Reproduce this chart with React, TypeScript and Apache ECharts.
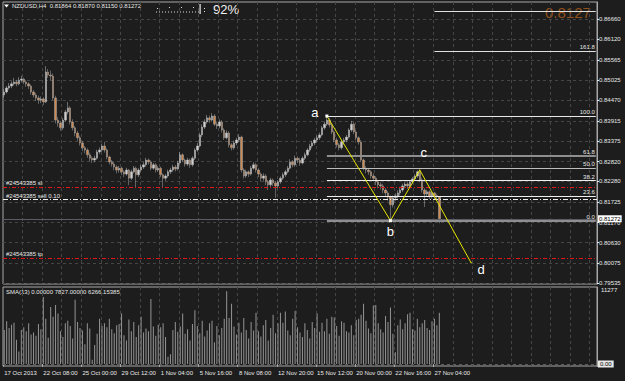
import React, { useEffect, useRef } from "react";
import * as echarts from "echarts";

// ---------- data ----------
const SYMBOL_TITLE = "NZDUSD,H4";
const HEADER_OHLC = ["0.81864", "0.81870", "0.81150", "0.81272"];
const ZOOM_PERCENT = "92%";
const BIG_PRICE = "0.8127";
const SMA_TEXT = "SMA(13) 0.00000 7827.00000 6266.15385";

const TIME_LABELS = [
  "17 Oct 2013", "22 Oct 08:00", "25 Oct 00:00", "29 Oct 12:00", "1 Nov 04:00", "5 Nov 16:00",
  "8 Nov 08:00", "12 Nov 20:00", "15 Nov 12:00", "20 Nov 00:00", "22 Nov 16:00", "27 Nov 04:00",
];
const BARS_PER_LABEL = 16;
const BARS_PER_GRID = 8;
const SLOT_COUNT = 243;

const PRICE_TICKS = [
  0.79535, 0.80075, 0.8063, 0.8117, 0.81725, 0.8228, 0.8282, 0.83375, 0.83915, 0.8447, 0.85025,
  0.85565, 0.8612, 0.8666,
];
const PRICE_MIN = 0.79508;
const PRICE_MAX = 0.87133;

const FIRST_OPEN = 0.8462;
const CLOSES = [
  0.847, 0.8481, 0.8486, 0.8492, 0.8497, 0.8492, 0.8502, 0.8505, 0.8497, 0.8492,
  0.8486, 0.847, 0.8462, 0.8454, 0.8448, 0.8451, 0.8443, 0.8524, 0.8516, 0.8513,
  0.8454, 0.8394, 0.8386, 0.8373, 0.8394, 0.8416, 0.8427, 0.8389, 0.8373, 0.8359,
  0.8346, 0.8332, 0.8319, 0.8313, 0.83, 0.8291, 0.8286, 0.8291, 0.8308, 0.8313,
  0.8324, 0.8313, 0.8294, 0.8281, 0.8275, 0.8267, 0.8259, 0.8264, 0.8254, 0.8248,
  0.8259, 0.8237, 0.8254, 0.8264, 0.8246, 0.8259, 0.8267, 0.8273, 0.8286, 0.8281,
  0.8264, 0.8273, 0.8259, 0.8264, 0.8246, 0.8237, 0.8243, 0.8254, 0.8259, 0.8267,
  0.8262, 0.8278, 0.83, 0.8286, 0.8275, 0.8286, 0.8273, 0.8291, 0.8313, 0.8324,
  0.8354, 0.8375, 0.8389, 0.84, 0.8394, 0.8405, 0.8383, 0.8378, 0.8389, 0.8367,
  0.8346, 0.8359, 0.8327, 0.8319, 0.8332, 0.834, 0.8348, 0.8259, 0.8243, 0.8254,
  0.8248, 0.8264, 0.8273, 0.8259, 0.8248, 0.8237, 0.8243, 0.8227, 0.8219, 0.8232,
  0.8224, 0.8216, 0.8227, 0.8237, 0.8246, 0.8254, 0.8264, 0.8281, 0.8273, 0.8291,
  0.8286, 0.8278, 0.8291, 0.83, 0.8313, 0.8324, 0.8332, 0.834, 0.8346, 0.8354,
  0.8373, 0.8383, 0.8394, 0.8381, 0.8362, 0.834, 0.8327, 0.8319, 0.8335, 0.834,
  0.8348, 0.8367, 0.8383, 0.8362, 0.8346, 0.8335, 0.8286, 0.8264, 0.8259, 0.8254,
  0.8243, 0.8237, 0.8227, 0.8219, 0.8216, 0.8205, 0.8197, 0.8186, 0.8165, 0.8184,
  0.8189, 0.8197, 0.8205, 0.8216, 0.8221, 0.8216, 0.8227, 0.8235, 0.8243, 0.8254,
  0.8232, 0.8205, 0.8194, 0.82, 0.8189, 0.8197, 0.819, 0.81864, 0.81272,
];
const LOWS = [
  0.8455, 0.8466, 0.8476, 0.848, 0.8487, 0.8485, 0.8488, 0.8496, 0.8491, 0.8484,
  0.8478, 0.8463, 0.8455, 0.8446, 0.8438, 0.844, 0.8435, 0.844, 0.8508, 0.85,
  0.8448, 0.8385, 0.8376, 0.8365, 0.8368, 0.839, 0.841, 0.8382, 0.8366, 0.835,
  0.8338, 0.8325, 0.831, 0.8304, 0.8292, 0.8283, 0.8278, 0.828, 0.8287, 0.8302,
  0.8308, 0.8306, 0.8288, 0.8274, 0.8268, 0.8258, 0.825, 0.8252, 0.8246, 0.824,
  0.8244, 0.8218, 0.8232, 0.825, 0.821, 0.824, 0.8254, 0.8262, 0.8268, 0.8274,
  0.8258, 0.826, 0.8252, 0.8254, 0.824, 0.8212, 0.823, 0.8238, 0.8248, 0.8254,
  0.8255, 0.8258, 0.8274, 0.828, 0.8268, 0.827, 0.8265, 0.8268, 0.8286, 0.8308,
  0.832, 0.8348, 0.837, 0.8384, 0.8386, 0.839, 0.8378, 0.837, 0.8372, 0.836,
  0.834, 0.8342, 0.832, 0.8312, 0.8314, 0.8326, 0.8334, 0.8252, 0.8236, 0.8238,
  0.824, 0.8244, 0.826, 0.8252, 0.824, 0.8228, 0.823, 0.8218, 0.8205, 0.8214,
  0.8216, 0.8184, 0.821, 0.8222, 0.8232, 0.824, 0.825, 0.826, 0.8266, 0.8268,
  0.8278, 0.827, 0.8274, 0.8286, 0.8296, 0.8308, 0.8318, 0.8326, 0.8334, 0.834,
  0.835, 0.8368, 0.8378, 0.8374, 0.8356, 0.8334, 0.832, 0.8312, 0.8314, 0.8328,
  0.8334, 0.8344, 0.8362, 0.8356, 0.834, 0.8328, 0.828, 0.8258, 0.825, 0.8246,
  0.8236, 0.8228, 0.8218, 0.821, 0.8206, 0.8196, 0.8188, 0.8176, 0.8122, 0.8158,
  0.8176, 0.8182, 0.819, 0.82, 0.821, 0.8208, 0.821, 0.8222, 0.823, 0.8238,
  0.8226, 0.8198, 0.8159, 0.8186, 0.818, 0.8182, 0.818, 0.8176, 0.8115,
];
const HIGHS = [
  0.8478, 0.8486, 0.8494, 0.8499, 0.8508, 0.8503, 0.851, 0.8514, 0.8509, 0.8502,
  0.8496, 0.849, 0.8475, 0.8468, 0.846, 0.8458, 0.8456, 0.854, 0.8532, 0.8528,
  0.852, 0.846, 0.8402, 0.8392, 0.84, 0.8422, 0.8443, 0.8432, 0.8396, 0.8378,
  0.8365, 0.8352, 0.8338, 0.8324, 0.8318, 0.8306, 0.8296, 0.8298, 0.8314, 0.832,
  0.833, 0.8335, 0.8318, 0.8298, 0.8286, 0.828, 0.8272, 0.827, 0.8268, 0.8258,
  0.8265, 0.8262, 0.826, 0.827, 0.8268, 0.8264, 0.8273, 0.828, 0.8292, 0.829,
  0.8285, 0.8278, 0.8277, 0.827, 0.8268, 0.825, 0.8248, 0.826, 0.8265, 0.8273,
  0.8272, 0.8284, 0.8308, 0.8304, 0.829, 0.8292, 0.829, 0.8296, 0.8318, 0.8332,
  0.836, 0.8382, 0.8396, 0.8408, 0.8406, 0.8413, 0.841, 0.839, 0.8396, 0.8394,
  0.8372, 0.8366, 0.8364, 0.8332, 0.8338, 0.8346, 0.8356, 0.8352, 0.8264, 0.826,
  0.8258, 0.827, 0.828, 0.8278, 0.8264, 0.8252, 0.825, 0.8248, 0.8232, 0.8238,
  0.8236, 0.8228, 0.8232, 0.8242, 0.8252, 0.826, 0.827, 0.8288, 0.8286, 0.8298,
  0.8296, 0.8292, 0.8296, 0.8306, 0.8318, 0.833, 0.8338, 0.8346, 0.8352, 0.836,
  0.8378, 0.839, 0.8405, 0.84, 0.8386, 0.8366, 0.8346, 0.8332, 0.834, 0.8346,
  0.8354, 0.8372, 0.8392, 0.8388, 0.8366, 0.835, 0.834, 0.829, 0.827, 0.8264,
  0.8258, 0.825, 0.8242, 0.8232, 0.8226, 0.8222, 0.821, 0.8202, 0.819, 0.819,
  0.8196, 0.8204, 0.8212, 0.8222, 0.8228, 0.8226, 0.8232, 0.824, 0.8248, 0.8258,
  0.8259, 0.8238, 0.821, 0.8206, 0.8204, 0.8202, 0.82, 0.8195, 0.8187,
];
const VOLUMES = [
  5200, 6500, 5500, 6000, 6300, 3700, 1900, 5200, 5600, 5000,
  6200, 4500, 4800, 4300, 6100, 5300, 10200, 6900, 4000, 8700,
  7200, 9000, 7700, 5000, 4100, 6200, 6600, 5800, 3900, 9800,
  6400, 5500, 5100, 3000, 6200, 5400, 650, 2900, 4600, 6900,
  5800, 6200, 5600, 6900, 5300, 4700, 5900, 6100, 7700, 4400,
  3600, 6800, 5000, 6400, 4100, 5900, 7200, 4800, 5400, 5000,
  9900, 5700, 4300, 6000, 5600, 6200, 4100, 1100, 1500, 5200,
  6400, 4900, 5700, 7700, 4600, 5300, 3600, 6100, 8200, 5800,
  4700, 6600, 4200, 5100, 6200, 6600, 3300, 5800, 4400, 5500,
  6900, 11100, 7000, 9200, 5700, 4500, 6300, 4800, 7000, 5200,
  3900, 6400, 5100, 7800, 5000, 4200, 5900, 6700, 3600, 5500,
  7500, 4700, 6200, 7800, 6300, 8000, 5100, 4400, 6900, 8100,
  5600, 4800, 4100, 6200, 5200, 3900, 6400, 5500, 7700, 4900,
  6300, 5000, 6900, 4600, 7200, 7100, 5800, 4300, 6500, 6300,
  5000, 4800, 5900, 4400, 6700, 6900, 7500, 9200, 6600, 5400,
  4700, 8900, 9000, 6200, 5300, 4800, 7300, 6400, 8600, 4600,
  1800, 5900, 6800, 5300, 6200, 7600, 7800, 5300, 5100, 6900,
  5600, 6200, 6700, 5500, 5200, 6500, 6900, 5900, 7827,
];
const VOLUME_TICKS = [11277];
const VOLUME_MIN = -305;
const VOLUME_MAX = 11734;

const FIB_HIGH = 0.8405;
const FIB_LOW = 0.8122;
const FIB_START = 132;
const FIB_EXT_START = 176;
const FIB_RATIOS = [2, 1.618, 1, 0.618, 0.5, 0.382, 0.236, 0];
const FIB_LABELS = ["", "161.8", "100.0", "61.8", "50.0", "38.2", "23.6", "0.0"];

const WAVE_NAMES = ["a", "b", "c", "d"];
const WAVE_INDEX = [132, 158, 170, 191];
const WAVE_PRICES = [0.8405, 0.8122, 0.8259, 0.8008];

const ORDER_ID = "#24543385";
const ORDER_LOTS = "0.10";
const SL_PRICE = 0.8212;
const ENTRY_PRICE = 0.8179;
const TP_PRICE = 0.802;
const BID_PRICE = 0.81272;

// ---------- component ----------
const FONT = "Liberation Sans, Arial, sans-serif";
const TXT = "#e8e8e8";
const GRID_LINE = "#454545";
const FRAME = "#a8a8a8";
const RED = "#e01818";

export default function App() {
  const ref = useRef<HTMLDivElement>(null);

  useEffect(() => {
    if (!ref.current) return;
    const chart = echarts.init(ref.current, undefined, { renderer: "svg" });

    const categories = Array.from({ length: SLOT_COUNT }, (_, i) => String(i));
    const candles = CLOSES.map((c, i) => [i === 0 ? FIRST_OPEN : CLOSES[i - 1], c, LOWS[i], HIGHS[i]]);
    const labelAt = (idx: number) =>
      idx % BARS_PER_LABEL === 0 && idx / BARS_PER_LABEL < TIME_LABELS.length;
    const gridAt = (idx: number) => idx % BARS_PER_GRID === 0 && idx > 0;

    const fibStyle: Record<string, any> = {
      "": { color: "#e0e0e0", width: 1 },
      "161.8": { color: "#e0e0e0", width: 1 },
      "100.0": { color: "#e8e8e8", width: 1 },
      "61.8": { color: "#8e8e8e", width: 2 },
      "50.0": { color: "#bdbdbd", width: 1 },
      "38.2": { color: "#f0f0f0", width: 1 },
      "23.6": { color: "#f0f0f0", width: 1 },
      "0.0": { color: "#8e8e8e", width: 2 },
    };
    const fibLines = FIB_RATIOS.map((r, k) => {
      const p = FIB_LOW + r * (FIB_HIGH - FIB_LOW);
      const start = r > 1 ? FIB_EXT_START : FIB_START;
      const lbl = FIB_LABELS[k];
      return [
        {
          coord: [start, p],
          lineStyle: { type: "solid", ...fibStyle[lbl] },
          label: {
            show: lbl !== "",
            formatter: lbl,
            position: "insideEndTop",
            distance: 1,
            color: TXT,
            fontSize: 6,
            fontFamily: FONT,
          },
        },
        { coord: [SLOT_COUNT - 1, p] },
      ];
    });

    const orderLine = (price: number, text: string, color: string, dash: number[]) => ({
      yAxis: price,
      lineStyle: { color, type: dash, width: 1.2 },
      label: {
        show: true,
        formatter: text,
        position: "insideStartTop",
        distance: [3, 1],
        color: TXT,
        fontSize: 6,
        fontFamily: FONT,
      },
    });

    const waveData = WAVE_NAMES.map((n, k) => {
      const offsets = [[-12, -4], [0, 11], [4, -18], [10, 7]];
      return {
        value: [WAVE_INDEX[k], WAVE_PRICES[k]],
        symbolSize: k < 2 ? 3 : 1,
        itemStyle: { color: k < 2 ? "#ffffff" : "#e6e600" },
        label: {
          show: true,
          formatter: n,
          position: "inside",
          offset: offsets[k],
          color: "#ffffff",
          fontSize: 13,
          fontFamily: FONT,
        },
      };
    });

    const xBase = {
      type: "category",
      data: categories,
      boundaryGap: true,
      axisLine: { show: false },
      splitLine: {
        show: true,
        interval: (idx: number) => gridAt(idx),
        lineStyle: { color: GRID_LINE, type: [3, 3], width: 1 },
      },
    };

    chart.setOption({
      animation: false,
      backgroundColor: "#1d1d1d",
      textStyle: { fontFamily: FONT },
      grid: [
        { left: 3, top: 2, width: 594, height: 282, show: true, borderColor: FRAME, borderWidth: 1 },
        { left: 3, top: 287, width: 594, height: 79, show: true, borderColor: FRAME, borderWidth: 1 },
      ],
      xAxis: [
        { ...xBase, gridIndex: 0, axisTick: { show: false }, axisLabel: { show: false } },
        {
          ...xBase,
          gridIndex: 1,
          axisTick: {
            show: true,
            interval: (idx: number) => labelAt(idx),
            length: 3,
            lineStyle: { color: FRAME },
          },
          axisLabel: {
            show: true,
            interval: (idx: number) => labelAt(idx),
            formatter: (_v: string, idx: number) => TIME_LABELS[idx / BARS_PER_LABEL] ?? "",
            align: "left",
            margin: 4,
            color: TXT,
            fontSize: 6,
            fontFamily: FONT,
          },
        },
      ],
      yAxis: [
        {
          type: "value",
          gridIndex: 0,
          position: "right",
          min: PRICE_MIN,
          max: PRICE_MAX,
          axisLine: { show: true, lineStyle: { color: FRAME } },
          axisTick: { show: true, length: 2, customValues: PRICE_TICKS, lineStyle: { color: TXT } },
          axisLabel: {
            customValues: PRICE_TICKS,
            formatter: (v: number) => v.toFixed(5),
            margin: 2,
            color: TXT,
            fontSize: 6,
            fontFamily: FONT,
          },
          splitLine: { show: true, lineStyle: { color: GRID_LINE, type: [3, 3] } },
        },
        {
          type: "value",
          gridIndex: 1,
          position: "right",
          min: VOLUME_MIN,
          max: VOLUME_MAX,
          axisLine: { show: true, lineStyle: { color: FRAME } },
          axisTick: { show: false, customValues: VOLUME_TICKS },
          axisLabel: {
            customValues: VOLUME_TICKS,
            formatter: (v: number) => String(v),
            margin: 4,
            color: TXT,
            fontSize: 6,
            fontFamily: FONT,
          },
          splitLine: { show: false },
        },
      ],
      series: [
        {
          type: "candlestick",
          xAxisIndex: 0,
          yAxisIndex: 0,
          data: candles,
          barWidth: 1.9,
          itemStyle: {
            color: "#d0d0d0",
            color0: "#d08a50",
            borderColor: "#bcbcbc",
            borderColor0: "#a8a8a8",
            borderWidth: 0.5,
          },
          markLine: {
            silent: true,
            precision: 5,
            symbol: ["none", "none"],
            animation: false,
            data: [
              ...fibLines,
              orderLine(SL_PRICE, `${ORDER_ID} sl`, RED, [4, 2, 1, 2]),
              orderLine(ENTRY_PRICE, `${ORDER_ID} sell ${ORDER_LOTS}`, "#f0f0f0", [5, 2, 1, 2]),
              orderLine(TP_PRICE, `${ORDER_ID} tp`, RED, [4, 2, 1, 2]),
              {
                yAxis: BID_PRICE,
                lineStyle: { color: "#5c5c68", type: "solid", width: 1 },
                label: {
                  show: true,
                  position: "end",
                  distance: 1,
                  formatter: BID_PRICE.toFixed(5),
                  backgroundColor: "#ffffff",
                  color: "#000000",
                  padding: [1, 1, 0, 1],
                  fontSize: 6,
                  fontFamily: FONT,
                },
              },
            ],
          },
        },
        {
          type: "line",
          xAxisIndex: 0,
          yAxisIndex: 0,
          data: waveData,
          symbol: "rect",
          showSymbol: true,
          showAllSymbol: true,
          lineStyle: { color: "#e6e600", width: 1 },
          z: 5,
        },
        {
          type: "bar",
          xAxisIndex: 1,
          yAxisIndex: 1,
          data: VOLUMES,
          barWidth: 1,
          itemStyle: { color: "#959595" },
          markLine: {
            silent: true,
            precision: 2,
            symbol: ["none", "none"],
            animation: false,
            data: [
              {
                yAxis: 0,
                lineStyle: { color: "#5a5a5a", type: [3, 3], width: 1 },
                label: {
                  show: true,
                  position: "end",
                  distance: 1,
                  formatter: "0.00",
                  backgroundColor: "#e8e8e8",
                  color: "#000000",
                  padding: [1, 2, 0, 2],
                  fontSize: 6,
                  fontFamily: FONT,
                },
              },
            ],
          },
        },
      ],
      graphic: [
        { type: "polygon", shape: { points: [[4, 4.5], [9, 4.5], [6.5, 7.5]] }, style: { fill: "#ffffff" } },
        {
          type: "text",
          x: 12,
          y: 6,
          style: {
            text: `${SYMBOL_TITLE}  ${HEADER_OHLC.join(" ")}`,
            fill: TXT,
            font: `6px ${FONT}`,
            verticalAlign: "middle",
          },
        },
        {
          type: "line",
          shape: { x1: 156, y1: 12, x2: 199, y2: 12 },
          style: { stroke: "#e0e0e0", lineWidth: 1, lineDash: [1, 2] },
        },
        { type: "rect", shape: { x: 157, y: 8, width: 1, height: 1 }, style: { fill: "#e0e0e0" } },
        { type: "rect", shape: { x: 169, y: 7, width: 1, height: 1 }, style: { fill: "#e0e0e0" } },
        { type: "rect", shape: { x: 181, y: 7, width: 1, height: 1 }, style: { fill: "#e0e0e0" } },
        { type: "rect", shape: { x: 193, y: 7, width: 1, height: 1 }, style: { fill: "#e0e0e0" } },
        { type: "rect", shape: { x: 199.5, y: 4, width: 1.2, height: 10 }, style: { fill: "#f0f0f0" } },
        { type: "rect", shape: { x: 204, y: 8, width: 1, height: 1 }, style: { fill: "#e0e0e0" } },
        { type: "rect", shape: { x: 204, y: 11, width: 1, height: 1 }, style: { fill: "#e0e0e0" } },
        {
          type: "text",
          x: 213,
          y: 9,
          style: { text: ZOOM_PERCENT, fill: "#f2f2f2", font: `13px ${FONT}`, verticalAlign: "middle" },
        },
        {
          type: "text",
          x: 545,
          y: 12,
          style: { text: BIG_PRICE, fill: "#94501c", font: `15px ${FONT}`, verticalAlign: "middle" },
        },
        {
          type: "text",
          x: 6,
          y: 292,
          style: { text: SMA_TEXT, fill: TXT, font: `6px ${FONT}`, verticalAlign: "middle" },
        },
      ],
    });

    return () => chart.dispose();
  }, []);

  return (
    <div
      ref={ref}
      style={{ position: "fixed", left: 0, top: 0, width: 625, height: 381, background: "#1d1d1d" }}
    />
  );
}
